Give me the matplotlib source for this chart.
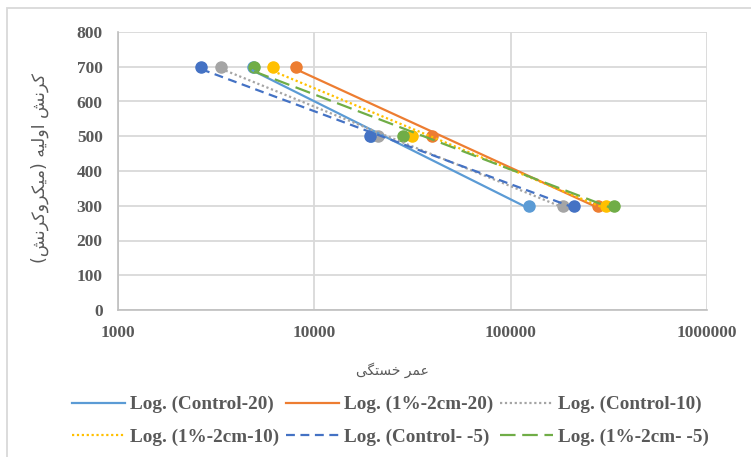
import matplotlib
matplotlib.use("Agg")
import matplotlib.pyplot as plt
import matplotlib.patches as mpatches
import numpy as np

# ---- data ----
strain_levels = [700, 500, 300]
series_names = ["Control-20", "1%-2cm-20", "Control-10", "1%-2cm-10", "Control- -5", "1%-2cm- -5"]
life_control_20 = [4850, 19500, 124000]
life_1pct_20 = [8070, 39800, 279000]
life_control_10 = [3350, 21100, 185000]
life_1pct_10 = [6160, 31500, 306000]
life_control_5 = [2650, 19200, 210000]
life_1pct_5 = [4930, 28300, 336000]
x_ticks = [1000, 10000, 100000, 1000000]
y_ticks = [0, 100, 200, 300, 400, 500, 600, 700, 800]

colors = ["#5B9BD5", "#ED7D31", "#A5A5A5", "#FFC000", "#4472C4", "#70AD47"]
styles = ["-", "-", (0, (1, 1.2)), (0, (1, 1.2)), (0, (4, 2.5)), (0, (7, 3))]
lives = [life_control_20, life_1pct_20, life_control_10, life_1pct_10, life_control_5, life_1pct_5]

# Persian labels (pre-shaped presentation forms, visual order)
xlabel = "\uFBFD\uFB95\uFE98\uFEB4\uFEA7 \uFEAE\uFEE4\uFECB"
ylabel = ("(\uFEB6\uFEE7\uFEAE\uFB90\uFEED\uFEAE\uFB91\uFBFF\uFEE3) "
          "\uFEEA\uFBFF\uFEDF\uFEED\uFE8D \uFEB6\uFEE7\uFEAE\uFB90")

W, H = 751, 457
fig = plt.figure(figsize=(W / 100, H / 100), dpi=100)
ax = fig.add_axes([118 / W, 1 - 310 / H, (707 - 118) / W, (310 - 32) / H])

serif = ["Liberation Serif", "DejaVu Serif"]
tick_col = "#595959"

for life, c in zip(lives, colors):
    ax.plot(life, strain_levels, "o", color=c, ms=8, zorder=3, linestyle="none")

handles = []
for name, life, c, ls in zip(series_names, lives, colors, styles):
    lx = np.log(np.array(life, dtype=float))
    a, b = np.polyfit(lx, np.array(strain_levels, dtype=float), 1)
    xs = np.array([min(life), max(life)], dtype=float)
    ys = a * np.log(xs) + b
    h, = ax.plot(xs, ys, color=c, linestyle=ls, lw=1.6, zorder=4,
                 label="Log. (" + name + ")")
    handles.append(h)

ax.set_xscale("log")
ax.set_xlim(1000, 1000000)
ax.set_ylim(0, 800)
ax.set_xticks(x_ticks)
ax.set_xticklabels([str(v) for v in x_ticks])
ax.set_yticks(y_ticks)
ax.set_yticklabels([str(v) for v in y_ticks])
ax.xaxis.set_minor_locator(matplotlib.ticker.NullLocator())
ax.grid(True, color="#D9D9D9", lw=1.3)
ax.set_axisbelow(True)
for s in ["top", "right"]:
    ax.spines[s].set_visible(False)
for s in ["left", "bottom"]:
    ax.spines[s].set_color("#BFBFBF")
    ax.spines[s].set_linewidth(1.2)
ax.tick_params(axis="x", length=0, pad=10.5, colors=tick_col)
ax.tick_params(axis="y", length=0, pad=11, colors=tick_col)
for lab in ax.get_xticklabels() + ax.get_yticklabels():
    lab.set_fontfamily(serif)
    lab.set_fontweight("bold")
    lab.set_fontsize(12.5)
    lab.set_color(tick_col)

fig.text(392 / W, 1 - 370 / H, xlabel, ha="center", va="center",
         fontsize=10, color=tick_col, family=["DejaVu Sans"])
fig.text(40 / W, 1 - 168 / H, ylabel, ha="center", va="center", rotation=90,
         fontsize=12.5, color=tick_col, family=["DejaVu Sans"])

# legend filled row-wise like the reference
order = [0, 3, 1, 4, 2, 5]
leg = fig.legend(handles=[handles[i] for i in order], loc="upper left", ncol=3,
                 bbox_to_anchor=(72 / W, 1 - 396 / H), frameon=False,
                 prop={"family": serif, "weight": "bold", "size": 13.8},
                 handlelength=2.76, handletextpad=0.26, columnspacing=0.37,
                 labelspacing=0.78, labelcolor=tick_col, borderpad=0,
                 borderaxespad=0)

border = mpatches.Rectangle((7 / W, -0.1), 1.2, 1 - 8 / H + 0.1,
                            transform=fig.transFigure, fill=False,
                            edgecolor="#D9D9D9", lw=1.3)
fig.add_artist(border)

fig.savefig("out.png", dpi=100)
